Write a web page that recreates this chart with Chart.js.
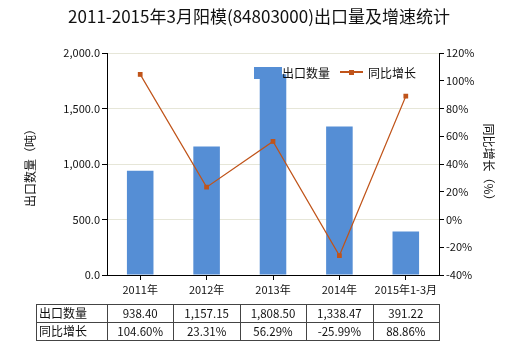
<!DOCTYPE html>
<html>
<head>
<meta charset="utf-8">
<script src="https://cdn.jsdelivr.net/npm/chart.js@4"></script>
<style>
  html, body { margin: 0; padding: 0; background: #fff; }
  #wrap { width: 520px; height: 350px; }
</style>
</head>
<body>
<div id="wrap"><canvas id="c" width="520" height="350"></canvas></div>
<script>
// 数据
const categories = ['2011年', '2012年', '2013年', '2014年', '2015年1-3月'];
const exportQty = [938.40, 1157.15, 1808.50, 1338.47, 391.22];
const growthPct = [104.60, 23.31, 56.29, -25.99, 88.86];
const qtyLabels = ['938.40', '1,157.15', '1,808.50', '1,338.47', '391.22'];
const pctLabels = ['104.60%', '23.31%', '56.29%', '-25.99%', '88.86%'];

const FONT = '"Microsoft YaHei", "Noto Sans CJK SC", "DejaVu Sans", sans-serif';
const BAR_COLOR = '#558ED5';
const LINE_COLOR = '#C0541A';

// 标题、图例、轴标题和数据表
const extras = {
    id: 'extras',
    afterDraw(chart) {
        const ctx = chart.ctx;
        const x = chart.scales.x;
        ctx.save();
        ctx.fillStyle = '#111';
        ctx.textBaseline = 'middle';

        // 标题
        ctx.font = '17px ' + FONT;
        ctx.textAlign = 'center';
        ctx.fillText('2011-2015年3月阳模(84803000)出口量及增速统计', 259, 17);

        // 图例
        ctx.fillStyle = BAR_COLOR;
        ctx.fillRect(254, 67, 28, 12);
        ctx.font = '12px ' + FONT;
        ctx.fillStyle = '#111';
        ctx.textAlign = 'left';
        ctx.fillText('出口数量', 282, 73);
        ctx.strokeStyle = LINE_COLOR;
        ctx.lineWidth = 2;
        ctx.beginPath(); ctx.moveTo(340, 72); ctx.lineTo(363, 72); ctx.stroke();
        ctx.fillStyle = LINE_COLOR;
        ctx.fillRect(349, 70, 5, 5);
        ctx.fillStyle = '#111';
        ctx.fillText('同比增长', 368, 73);

        // 轴标题
        ctx.font = '12px ' + FONT;
        ctx.textAlign = 'center';
        ctx.save();
        ctx.translate(30, 165);
        ctx.rotate(-Math.PI / 2);
        ctx.fillText('出口数量（吨）', 0, 0);
        ctx.restore();
        ctx.save();
        ctx.translate(489, 165);
        ctx.rotate(Math.PI / 2);
        ctx.fillText('同比增长（%）', 0, 0);
        ctx.restore();

        // 数据表
        const top = 304, rowH = 18, left = 36;
        const half = (x.getPixelForValue(1) - x.getPixelForValue(0)) / 2;
        const right = x.getPixelForValue(categories.length - 1) + half;
        ctx.strokeStyle = '#444';
        ctx.lineWidth = 1;
        ctx.strokeRect(left + 0.5, top + 0.5, right - left, rowH * 2);
        ctx.beginPath();
        ctx.moveTo(left, top + rowH + 0.5); ctx.lineTo(right, top + rowH + 0.5);
        for (let i = 0; i < categories.length; i++) {
            const b = Math.round(x.getPixelForValue(i) - half) + 0.5;
            ctx.moveTo(b, top); ctx.lineTo(b, top + rowH * 2);
        }
        ctx.stroke();
        ctx.font = '12px ' + FONT;
        ctx.fillStyle = '#111';
        ctx.textAlign = 'left';
        ctx.fillText('出口数量', left + 3, top + rowH / 2);
        ctx.fillText('同比增长', left + 3, top + rowH * 1.5);
        ctx.font = '11.5px ' + FONT;
        ctx.textAlign = 'center';
        for (let i = 0; i < categories.length; i++) {
            const cx = x.getPixelForValue(i);
            ctx.fillText(qtyLabels[i], cx, top + rowH / 2 + 1);
            ctx.fillText(pctLabels[i], cx, top + rowH * 1.5 + 1);
        }
        ctx.restore();
    }
};

new Chart(document.getElementById('c'), {
    data: {
        labels: categories,
        datasets: [
            {
                type: 'line', label: '同比增长', data: growthPct, yAxisID: 'y1',
                borderColor: LINE_COLOR, backgroundColor: LINE_COLOR, borderWidth: 1.2,
                pointStyle: 'rect', pointRadius: 2.5, tension: 0, order: 0
            },
            {
                type: 'bar', label: '出口数量', data: exportQty, yAxisID: 'y',
                backgroundColor: BAR_COLOR, barPercentage: 0.4, categoryPercentage: 1, order: 1
            }
        ]
    },
    options: {
        responsive: false,
        animation: false,
        layout: { padding: { top: 53, left: 0, right: 0, bottom: 0 } },
        plugins: { legend: { display: false }, title: { display: false }, tooltip: { enabled: false } },
        scales: {
            x: {
                grid: { offset: false, drawOnChartArea: false, color: '#000', tickLength: 5 },
                border: { color: '#000' },
                ticks: { color: '#111', font: { size: 11, family: FONT }, padding: 3, maxRotation: 0 },
                afterFit(s) { s.height = 75; }
            },
            y: {
                position: 'left', min: 0, max: 2000,
                grid: { color: '#E6E6D8', tickLength: 5, tickColor: '#000' },
                border: { color: '#000' },
                ticks: {
                    stepSize: 500, color: '#111', font: { size: 11, family: FONT }, padding: 2,
                    callback: v => v.toLocaleString('en-US', { minimumFractionDigits: 1, maximumFractionDigits: 1 })
                },
                afterFit(s) { s.width = 107; }
            },
            y1: {
                position: 'right', min: -40, max: 120,
                grid: { drawOnChartArea: false, color: '#000', tickLength: 5 },
                border: { color: '#000' },
                ticks: { stepSize: 20, color: '#111', font: { size: 11, family: FONT }, padding: 2, callback: v => v + '%' },
                afterFit(s) { s.width = 81; }
            }
        }
    },
    plugins: [extras]
});
</script>
</body>
</html>
